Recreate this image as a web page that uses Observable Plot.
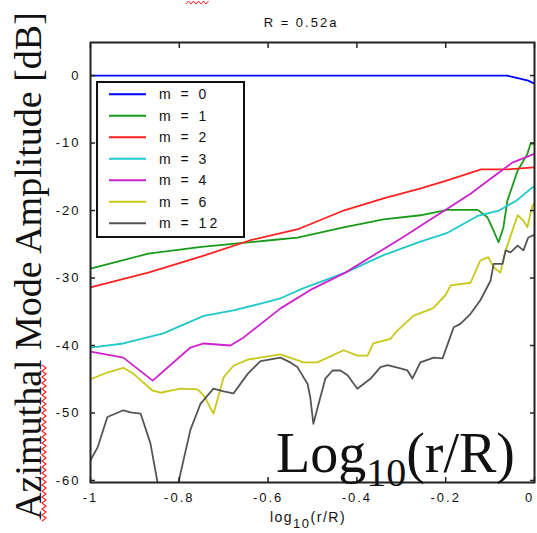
<!DOCTYPE html>
<html>
<head>
<meta charset="utf-8">
<script src="https://cdn.jsdelivr.net/npm/d3@7"></script>
<script src="https://cdn.jsdelivr.net/npm/@observablehq/plot@0.6"></script>
<style>
  html, body { margin: 0; padding: 0; background: #fff; }
  #chart { width: 537px; height: 533px; }
  #chart svg g[aria-label="x-axis tick label"] text,
  #chart svg g[aria-label="y-axis tick label"] text { letter-spacing: 2px; }
</style>
</head>
<body>
<div id="chart"></div>
<script>
// ---- data (x = log10(r/R), y = amplitude in dB) ----
const seriesLabels = ["m = 0", "m = 1", "m = 2", "m = 3", "m = 4", "m = 6", "m = 12"];
const seriesColors = ["#0000ff", "#1a9a1a", "#ff2020", "#20c8c8", "#cc22cc", "#c8c818", "#555555"];

const m0 = [[-1,0],[-0.6,0],[-0.2,0],[-0.062,0],[-0.04,-0.35],[-0.014,-0.75],[0,-1.2]];
const m1 = [[-1,-28.6],[-0.87,-26.4],[-0.75,-25.4],[-0.595,-24.4],[-0.534,-24.0],[-0.43,-22.5],[-0.34,-21.3],[-0.257,-20.7],[-0.196,-19.9],[-0.128,-19.9],[-0.106,-21],[-0.092,-23],[-0.081,-24.7],[-0.07,-22.5],[-0.061,-18.5],[-0.038,-14.1],[-0.016,-11.6],[-0.009,-10.1],[0,-10.1]];
const m2 = [[-1,-31.4],[-0.87,-29.2],[-0.75,-26.8],[-0.64,-24.4],[-0.53,-22.7],[-0.43,-20.0],[-0.34,-18.2],[-0.26,-16.8],[-0.2,-15.6],[-0.12,-13.9],[-0.06,-13.9],[0,-13.6]];
const m3 = [[-1,-40.3],[-0.926,-39.7],[-0.836,-38.2],[-0.745,-35.6],[-0.678,-34.8],[-0.617,-33.8],[-0.572,-33.0],[-0.52,-31.5],[-0.426,-29.2],[-0.34,-26.6],[-0.257,-24.6],[-0.196,-23.3],[-0.128,-20.8],[-0.08,-20.0],[-0.04,-18.5],[0,-16.3]];
const m4 = [[-1,-40.9],[-0.926,-41.8],[-0.86,-45.2],[-0.775,-40.3],[-0.745,-39.7],[-0.685,-40.0],[-0.655,-38.8],[-0.572,-34.5],[-0.5,-31.6],[-0.426,-29.2],[-0.3,-24.1],[-0.2,-19.9],[-0.144,-17.5],[-0.099,-15.3],[-0.05,-12.9],[0,-11.6]];
const m6 = [[-1,-45],[-0.962,-44],[-0.926,-43.3],[-0.903,-44.2],[-0.86,-46.7],[-0.842,-47],[-0.82,-46.7],[-0.797,-46.4],[-0.759,-46.5],[-0.745,-47.4],[-0.723,-50.1],[-0.7,-44.7],[-0.678,-43],[-0.646,-42.1],[-0.601,-41.6],[-0.572,-41.3],[-0.52,-42.5],[-0.489,-42.5],[-0.43,-40.7],[-0.399,-41.5],[-0.376,-41.5],[-0.363,-39.7],[-0.324,-39],[-0.309,-37.8],[-0.273,-35.6],[-0.241,-34.8],[-0.227,-34.4],[-0.2,-32.5],[-0.189,-31.1],[-0.144,-30.7],[-0.122,-27.4],[-0.104,-26.9],[-0.092,-28.4],[-0.077,-29.2],[-0.065,-25.9],[-0.038,-20.7],[-0.025,-21.5],[-0.016,-22.5],[-0.005,-19.3],[0,-19]];
const m12 = [[-1,-57],[-0.984,-55.1],[-0.962,-50.6],[-0.926,-49.6],[-0.91,-49.9],[-0.887,-50.1],[-0.865,-54.5],[-0.849,-60.3],[-0.835,-63],[-0.815,-63],[-0.802,-60.3],[-0.775,-52.5],[-0.752,-48.6],[-0.723,-46.4],[-0.7,-46.8],[-0.678,-47.1],[-0.646,-44.2],[-0.617,-42.3],[-0.572,-41.8],[-0.55,-42.5],[-0.534,-43.2],[-0.511,-45.7],[-0.505,-47.7],[-0.498,-51.6],[-0.486,-48.6],[-0.471,-44.9],[-0.455,-43.7],[-0.437,-43.7],[-0.421,-44.4],[-0.399,-46.4],[-0.385,-45.7],[-0.369,-44.9],[-0.347,-43.2],[-0.331,-42.9],[-0.302,-43.4],[-0.286,-43.7],[-0.275,-44.9],[-0.257,-42.5],[-0.227,-41.8],[-0.207,-41.9],[-0.182,-37.3],[-0.167,-36.8],[-0.144,-35.3],[-0.122,-33.3],[-0.099,-30.4],[-0.092,-27.9],[-0.072,-27.9],[-0.065,-25.9],[-0.054,-26.2],[-0.038,-25.2],[-0.025,-25.9],[-0.014,-24],[0,-23.6]];

const xTicks = [-1, -0.8, -0.6, -0.4, -0.2, 0];
const yTicks = [0, -10, -20, -30, -40, -50, -60];

const titleText = "R = 0.52a";
const yLabelText = "Azimuthal Mode Amplitude [dB]";

// ---- build ----
const allSeries = [m0, m1, m2, m3, m4, m6, m12];
const rows = allSeries.flatMap((s, i) => s.map(([x, y]) => ({x, y, m: seriesLabels[i]})));

const W = 537, H = 533;
const sans = "Liberation Sans, Arial, sans-serif";
const serif = "Liberation Serif, Times New Roman, serif";
const axisStyle = {stroke: "#222", strokeWidth: 1.5, label: null};
const lastX = xTicks[xTicks.length - 1];

const plot = Plot.plot({
  width: W,
  height: H,
  marginLeft: 90,
  marginRight: 3,
  marginTop: 42,
  marginBottom: 51,
  style: {background: "#fff", color: "#111", fontFamily: sans, fontSize: "13px"},
  x: {domain: [-1, 0], label: null},
  y: {domain: [-60.3, 4.9], label: null},
  color: {domain: seriesLabels, range: seriesColors},
  marks: [
    Plot.line(rows, {x: "x", y: "y", z: "m", stroke: "m", strokeWidth: 1.8, clip: true}),
    Plot.axisY(yTicks, {...axisStyle, anchor: "left", tickSize: -5, tickPadding: 15, tickFormat: d => String(d), fill: "#111"}),
    Plot.axisY(yTicks, {...axisStyle, anchor: "right", tickSize: -5, text: null}),
    Plot.axisX(xTicks, {...axisStyle, anchor: "bottom", tickSize: -5, tickPadding: 15, tickFormat: d => d === lastX ? "" : String(d), fill: "#111"}),
    Plot.axisX([lastX], {...axisStyle, anchor: "bottom", tickSize: 0, tickPadding: 10, tickFormat: d => String(d), fill: "#111", dx: -5}),
    Plot.axisX(xTicks, {...axisStyle, anchor: "top", tickSize: -5, text: null}),
    Plot.frame({stroke: "#222", strokeWidth: 2})
  ]
});

document.getElementById("chart").appendChild(plot);

const svg = d3.select(plot);

// title
svg.append("text")
  .attr("x", 301).attr("y", 27)
  .attr("text-anchor", "middle")
  .style("font-family", sans)
  .style("font-size", "13px")
  .style("letter-spacing", "2px")
  .attr("fill", "#111")
  .text(titleText);

// x-axis small label: log10(r/R)
const xl = svg.append("text")
  .attr("x", 308).attr("y", 522)
  .attr("text-anchor", "middle")
  .style("font-family", sans)
  .style("font-size", "14px")
  .style("letter-spacing", "1.5px")
  .attr("fill", "#111");
xl.append("tspan").text("log");
xl.append("tspan").attr("dy", 6).style("font-size", "13px").text("10");
xl.append("tspan").attr("dy", -6).text("(r/R)");

// y-axis label (large serif)
svg.append("text")
  .attr("transform", "translate(41,266) rotate(-90)")
  .attr("text-anchor", "middle")
  .style("font-family", serif)
  .style("font-size", "38px")
  .attr("fill", "#111")
  .text(yLabelText);

// red spell-check squiggles (decoration)
const sq = d3.range(0, 53).map(i => [i % 2 ? 46 : 42, 521 - i * 3]);
svg.append("path").attr("d", d3.line()(sq)).attr("fill", "none").attr("stroke", "#ff2020").attr("stroke-width", 1.2);
const sq2 = d3.range(0, 10).map(i => [186 + i * 2.5, i % 2 ? 1 : 4]);
svg.append("path").attr("d", d3.line()(sq2)).attr("fill", "none").attr("stroke", "#ff2020").attr("stroke-width", 1);

// big overlay: Log10(r/R)
const big = svg.append("text")
  .attr("x", 515).attr("y", 472)
  .attr("text-anchor", "end")
  .style("font-family", serif)
  .style("font-size", "56px")
  .attr("fill", "#111");
big.append("tspan").text("Log");
big.append("tspan").attr("dy", 14).style("font-size", "40px").text("10");
big.append("tspan").attr("dy", -14).text("(r/R)");

// legend
const lg = svg.append("g");
lg.append("rect").attr("x", 97).attr("y", 82).attr("width", 147).attr("height", 155)
  .attr("fill", "#fff").attr("stroke", "#111").attr("stroke-width", 2);
seriesLabels.forEach((lab, i) => {
  const yy = 94.3 + i * 21.5;
  lg.append("line").attr("x1", 109).attr("x2", 146).attr("y1", yy).attr("y2", yy)
    .attr("stroke", seriesColors[i]).attr("stroke-width", 2);
  lg.append("text").attr("x", 159).attr("y", yy + 5)
    .attr("text-anchor", "start")
    .style("font-family", sans)
    .style("font-size", "14px")
    .style("letter-spacing", "3px")
    .attr("fill", "#111")
    .text(lab);
});
</script>
</body>
</html>
